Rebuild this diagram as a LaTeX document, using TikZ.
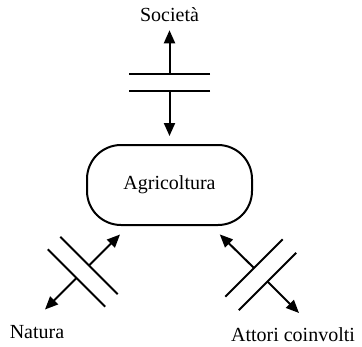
\documentclass[tikz,border=0pt]{standalone}
\usepackage{fontspec}
\setmainfont{Liberation Serif}
\usetikzlibrary{arrows.meta,calc}

\begin{document}
\begin{tikzpicture}[
  x=1pt, y=-1pt,
  font=\fontsize{20}{23}\selectfont,
  term/.style={inner sep=1pt},
  sector/.style={draw, line width=2pt, rounded corners=34pt, minimum width=165pt, minimum height=80pt},
  plate/.style={line width=2pt},
  flow/.style={-{Triangle[length=13pt,width=11pt]}, line width=2pt}
]
  \useasboundingbox (0,0) rectangle (362,346);

  \node[sector] (agri) at (169.5,185) {Agricoltura};
  \node[term] (soc) at (169.5,15) {Società};
  \node[term] (nat) at (37,332) {Natura};
  \node[term] (att) at (293,335) {Attori coinvolti};

  % plate centres and free arrow ends
  \coordinate (socUp) at (169.5,74);
  \coordinate (socLo) at (169.5,91);
  \coordinate (natIn) at (89,265.5);
  \coordinate (natOut) at (76.5,278);
  \coordinate (natTip) at (45,309.5);
  \coordinate (attIn) at (254,268);
  \coordinate (attOut) at (267.5,281.5);
  \coordinate (attTip) at (299,313);

  \foreach \c/\a in {socUp/0, socLo/0, natIn/45, natOut/45, attIn/-45, attOut/-45} {
    \draw[plate] ($(\c)+(\a:40.5)$) -- ($(\c)+(\a+180:40.5)$);
  }

  \draw[flow, shorten >=7pt] (socUp) -- (soc);
  \draw[flow, shorten >=8pt] (socLo) -- (agri);
  \draw[flow, shorten >=12pt] (natIn) -- (agri);
  \draw[flow] (natOut) -- (natTip);
  \draw[flow, shorten >=12pt] (attIn) -- (agri);
  \draw[flow] (attOut) -- (attTip);
\end{tikzpicture}
\end{document}
